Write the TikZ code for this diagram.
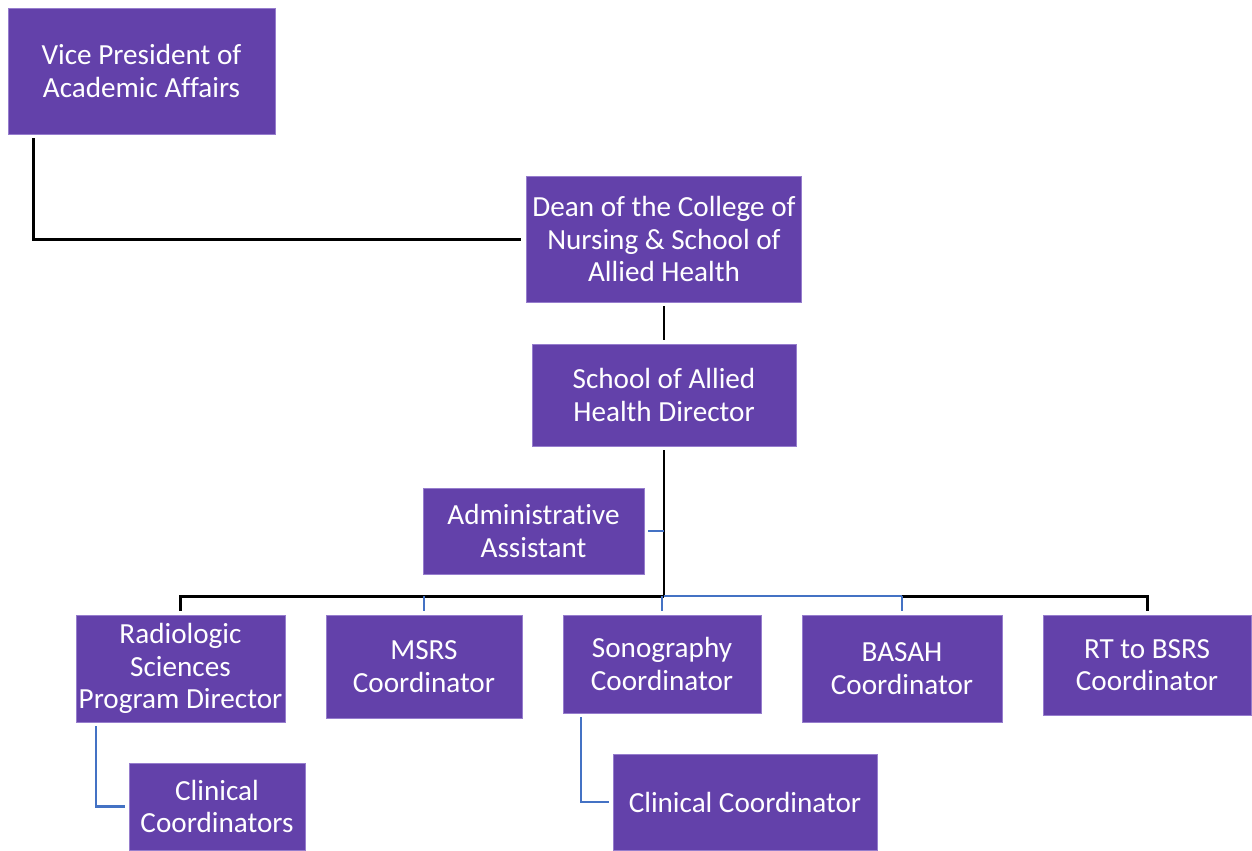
\documentclass[tikz,border=0pt]{standalone}
\usepackage{fontspec}
\setmainfont{Carlito}[Ligatures=NoCommon]
\usepackage{tikz}

\definecolor{boxpurple}{RGB}{99,65,170}
\definecolor{boxedge}{RGB}{150,125,205}
\definecolor{linkblue}{RGB}{68,114,196}

\tikzset{
  unit/.style={draw=boxedge,line width=0.4pt,fill=boxpurple,text=white,align=center,inner sep=0pt,font=\fontsize{16.6}{18.4}\selectfont},
  blackline/.style={line width=1.7pt,black},
  blueline/.style={line width=1.3pt,linkblue},
}

\begin{document}
\begin{tikzpicture}[x=0.02cm,y=-0.02cm]
\useasboundingbox (0,0) rectangle (1252,850);
\node[unit,minimum width=5.34cm,minimum height=2.52cm] (vp) at (141.5,71) {Vice President of\\Academic Affairs};
\node[unit,minimum width=5.5cm,minimum height=2.52cm] (dean) at (664,239) {Dean of the College of\\Nursing \& School of\\Allied Health};
\node[unit,minimum width=5.28cm,minimum height=2.04cm] (dir) at (664,395) {School of Allied\\Health Director};
\node[unit,minimum width=4.42cm,minimum height=1.72cm] (admin) at (533.5,531) {Administrative\\Assistant};
\node[unit,minimum width=4.18cm,minimum height=2.14cm] (rad) at (180.5,668.5) {Radiologic\\Sciences\\Program Director};
\node[unit,minimum width=3.92cm,minimum height=2.06cm] (msrs) at (424,666.5) {MSRS\\Coordinator};
\node[unit,minimum width=3.96cm,minimum height=1.96cm] (sono) at (662,664) {Sonography\\Coordinator};
\node[unit,minimum width=4.0cm,minimum height=2.14cm] (basah) at (902,668.5) {BASAH\\Coordinator};
\node[unit,minimum width=4.16cm,minimum height=2.0cm] (rt) at (1147,665) {RT to BSRS\\Coordinator};
\node[unit,minimum width=3.52cm,minimum height=1.74cm] (ccl) at (217,806.5) {Clinical\\Coordinators};
\node[unit,minimum width=5.28cm,minimum height=1.92cm] (ccr) at (745,802) {Clinical Coordinator};
\coordinate (bar) at (664,596);
\draw[blackline] ([xshift=0.52cm,yshift=-0.08cm]vp.south west) |- ([xshift=-0.1cm]dean.west);
\draw[blackline] ([yshift=-0.08cm]dean.south) -- ([yshift=0.08cm]dir.north);
\draw[blackline] ([yshift=-0.08cm]dir.south) -- (bar);
\draw[blueline] ([xshift=0.08cm]admin.east) -- (admin.east -| bar);
\draw[blackline] ([yshift=0.08cm]rad.north) -- (rad.north |- bar) -- (bar);
\draw[blueline] (bar) -- (bar -| basah.north);
\draw[blackline] (bar -| basah.north) -- (rt.north |- bar) -- ([yshift=0.08cm]rt.north);
\draw[blueline] (msrs.north |- bar) -- ([yshift=0.08cm]msrs.north);
\draw[blueline] (sono.north |- bar) -- ([yshift=0.08cm]sono.north);
\draw[blueline] (basah.north |- bar) -- ([yshift=0.08cm]basah.north);
\draw[blueline] ([xshift=0.4cm,yshift=-0.08cm]rad.south west) |- ([xshift=-0.08cm]ccl.west);
\draw[blueline] ([xshift=0.36cm,yshift=-0.08cm]sono.south west) |- ([xshift=-0.08cm]ccr.west);
\end{tikzpicture}
\end{document}
